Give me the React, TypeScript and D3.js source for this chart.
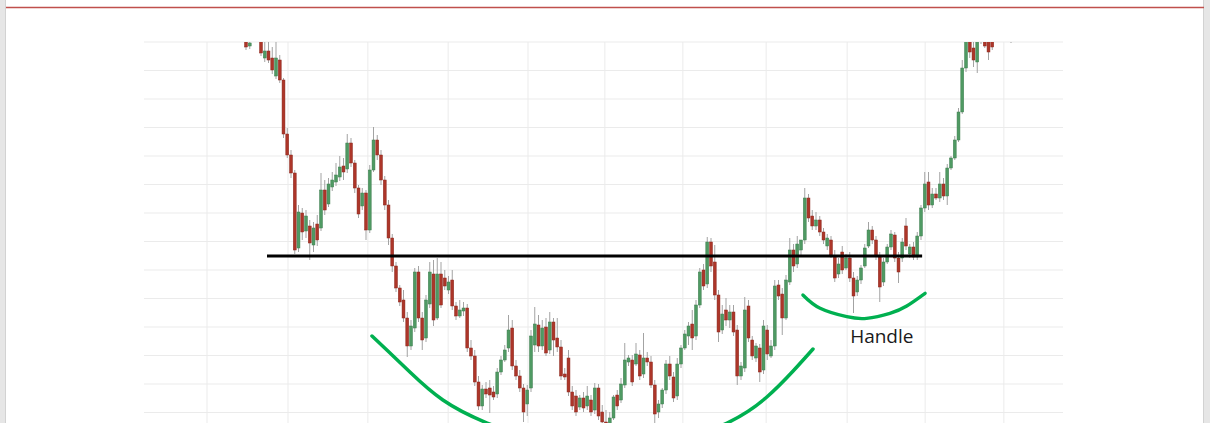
import React from 'react';
import * as d3 from 'd3';

// ---- Candle data (price units, one entry per trading day) ----
const opens = [
  462, 454, 464, 467, 463, 442, 449, 442, 424, 440,
  420, 366, 345, 327, 252, 287, 269, 274, 255, 276,
  272, 310, 296, 313, 318, 323, 334, 331, 357, 337,
  312, 294, 307, 270, 330, 360, 345, 320, 295, 262,
  234, 212, 200, 182, 154, 172, 228, 182, 162, 196,
  226, 182, 226, 222, 210, 220, 194, 184, 189, 192,
  152, 144, 118, 94, 111, 112, 108, 106, 128, 140,
  152, 172, 134, 124, 112, 96, 112, 155, 175, 154,
  173, 150, 178, 162, 153, 126, 142, 108, 104, 93,
  102, 94, 100, 90, 112, 88, 78, 70, 82, 105,
  100, 115, 138, 140, 136, 145, 126, 142, 138, 115,
  88, 96, 110, 136, 123, 104, 136, 152, 164, 176,
  164, 195, 230, 216, 258, 238, 205, 170, 190, 180,
  188, 170, 124, 132, 194, 160, 142, 152, 130, 170,
  144, 154, 215, 206, 182, 218, 250, 236, 250, 260,
  302, 284, 274, 280, 268, 254, 260, 244, 226, 248,
  232, 242, 222, 208, 220, 234, 254, 270, 260, 243,
  218, 238, 253, 265, 242, 242, 274, 246, 253, 243,
  264, 292, 318, 295, 306, 302, 316, 304, 332, 342,
  360, 388, 432, 460, 452, 438, 464, 464, 462, 460,
  468, 470, 474, 472, 470,
];
const highs = [
  465, 460, 470, 472, 466, 458, 459, 453, 460, 445,
  422, 372, 350, 330, 295, 292, 290, 280, 278, 285,
  327, 320, 322, 328, 337, 344, 342, 366, 362, 340,
  315, 312, 310, 335, 373, 365, 350, 324, 300, 266,
  238, 215, 210, 188, 180, 232, 234, 188, 205, 238,
  240, 242, 238, 230, 224, 230, 198, 200, 198, 196,
  160, 150, 124, 115, 118, 120, 114, 132, 144, 155,
  185, 180, 140, 130, 116, 115, 170, 193, 185, 180,
  182, 188, 182, 182, 160, 132, 150, 114, 110, 105,
  108, 114, 105, 117, 116, 95, 90, 88, 105, 110,
  122, 157, 145, 145, 157, 150, 167, 148, 144, 120,
  100, 112, 140, 144, 128, 142, 155, 170, 178, 190,
  200, 232, 236, 263, 262, 255, 210, 195, 202, 195,
  195, 175, 138, 203, 200, 164, 157, 156, 180, 175,
  160, 220, 220, 212, 225, 262, 256, 264, 260, 312,
  306, 290, 288, 284, 272, 266, 264, 250, 242, 254,
  246, 248, 228, 224, 235, 256, 278, 274, 264, 248,
  242, 256, 270, 268, 248, 262, 282, 256, 258, 268,
  295, 328, 328, 312, 312, 328, 322, 336, 344, 364,
  392, 440, 470, 464, 458, 466, 472, 468, 466, 466,
  474, 478, 480, 478, 476,
];
const lows = [
  450, 451, 460, 460, 444, 438, 437, 426, 421, 417,
  362, 342, 322, 246, 248, 260, 262, 240, 248, 254,
  269, 285, 293, 309, 314, 319, 320, 327, 333, 307,
  282, 290, 260, 267, 328, 340, 315, 290, 255, 228,
  208, 194, 178, 143, 150, 168, 178, 150, 158, 192,
  174, 180, 192, 210, 206, 190, 180, 182, 184, 148,
  140, 114, 90, 90, 102, 87, 100, 102, 125, 138,
  148, 130, 120, 108, 78, 84, 108, 148, 148, 150,
  144, 146, 144, 148, 120, 120, 104, 90, 84, 90,
  88, 90, 84, 86, 80, 72, 60, 65, 80, 90,
  97, 112, 134, 114, 134, 120, 122, 134, 112, 77,
  82, 92, 106, 120, 98, 100, 132, 150, 155, 150,
  160, 192, 210, 212, 228, 200, 158, 166, 174, 172,
  164, 115, 120, 128, 158, 140, 138, 118, 126, 140,
  142, 150, 200, 165, 180, 215, 228, 232, 244, 256,
  278, 270, 270, 264, 256, 250, 242, 218, 222, 226,
  230, 218, 187, 204, 216, 232, 252, 256, 240, 198,
  214, 236, 250, 238, 217, 238, 250, 242, 240, 240,
  260, 288, 290, 292, 300, 298, 300, 295, 330, 340,
  358, 386, 428, 442, 433, 427, 456, 452, 440, 450,
  460, 462, 464, 462, 457,
];
const closes = [
  453, 457, 467, 463, 447, 449, 440, 430, 442, 420,
  366, 345, 327, 250, 288, 268, 284, 257, 272, 260,
  310, 290, 316, 320, 325, 333, 328, 357, 337, 312,
  286, 307, 270, 330, 360, 345, 320, 295, 262, 234,
  212, 198, 182, 154, 174, 228, 182, 160, 200, 228,
  180, 226, 195, 214, 218, 194, 184, 190, 192, 152,
  144, 118, 94, 111, 106, 105, 103, 128, 140, 150,
  170, 134, 124, 112, 88, 110, 164, 176, 154, 172,
  147, 178, 160, 153, 124, 123, 108, 94, 88, 102,
  92, 104, 88, 112, 84, 78, 68, 82, 103, 94,
  116, 140, 142, 118, 146, 124, 142, 138, 115, 86,
  96, 110, 136, 124, 102, 136, 152, 166, 174, 162,
  195, 228, 214, 258, 234, 205, 168, 186, 180, 188,
  168, 124, 134, 190, 162, 144, 154, 128, 174, 146,
  154, 214, 204, 182, 220, 250, 234, 256, 260, 302,
  282, 274, 280, 268, 260, 262, 245, 222, 236, 230,
  242, 222, 204, 220, 232, 252, 270, 260, 244, 213,
  238, 253, 266, 242, 228, 258, 254, 253, 243, 264,
  292, 316, 295, 306, 302, 316, 304, 332, 342, 360,
  388, 432, 464, 448, 440, 462, 470, 454, 448, 453,
  470, 474, 472, 470, 466,
];

// month boundaries (in trading-day index units) used for the vertical grid
const monthStarts = [-10.4, 11.2, 32.5, 53.9, 75.2, 95.7, 116.5, 138.7, 160.3, 181.1, 202.1];
// horizontal grid levels (price)
const gridLevels = [458, 429.5, 401, 372.5, 344, 315.5, 287, 258.5, 230, 201.5, 173, 144.5, 116, 87.5];

// neckline / resistance
const necklinePrice = 244;
const necklineRange = [5.6, 180.3];

// pattern annotations (index, price)
const cupCurve: [number, number][] = [
  [33.6, 164], [38.4, 147], [43.7, 128], [52.5, 100], [64.3, 77], [78.4, 60],
  [94.4, 51], [110.4, 54], [128.3, 77], [138.9, 103], [145.9, 129], [151.2, 151],
];
const handleCurve: [number, number][] = [
  [148.5, 205], [153.1, 191.7], [160.2, 183.3], [165.5, 181.7], [171.7, 186.7], [176.2, 194], [181.1, 206.7],
];
const handleLabel = { text: 'Handle', idx: 161.1, price: 157 };

const W = 1210;
const H = 423;

export default function App() {
  const plot = { left: 144, right: 1063, top: 42, bottom: 423 };
  const x = d3.scaleLinear().domain([0, 204]).range([246, 1011]);
  const y = d3.scaleLinear().domain([77, 458]).range([423, 42]);
  const bw = 2.9;
  const n = Math.min(opens.length, highs.length, lows.length, closes.length);
  const idx = d3.range(n);
  const curve = d3
    .line<[number, number]>()
    .x((d) => x(d[0]))
    .y((d) => y(d[1]))
    .curve(d3.curveNatural);

  return (
    <svg
      width={W}
      height={H}
      style={{ position: 'absolute', left: 0, top: 0, background: '#ffffff' }}
    >
      <defs>
        <clipPath id="plotClip">
          <rect x={plot.left} y={plot.top} width={plot.right - plot.left} height={plot.bottom - plot.top + 40} />
        </clipPath>
      </defs>
      {/* page frame */}
      <rect x={0} y={0} width={W} height={H} fill="#ffffff" />
      <rect x={0} y={0} width={5} height={H} fill="#e6e6e6" />
      <line x1={5.5} x2={5.5} y1={0} y2={H} stroke="#d2d2d2" strokeWidth={1} />
      <rect x={1204} y={0} width={6} height={H} fill="#e6e6e6" />
      <line x1={1203.5} x2={1203.5} y1={0} y2={H} stroke="#d2d2d2" strokeWidth={1} />
      <line x1={6} x2={1204} y1={7.5} y2={7.5} stroke="#c0504d" strokeWidth={1.5} />

      {/* grid */}
      <g>
        {gridLevels.map((p) => (
          <line key={'h' + p} x1={plot.left} x2={plot.right} y1={y(p)} y2={y(p)} stroke="#ebebeb" strokeWidth={1} />
        ))}
        {monthStarts.map((m) => (
          <line key={'v' + m} x1={x(m)} x2={x(m)} y1={plot.top} y2={H} stroke="#ebebeb" strokeWidth={1} />
        ))}
      </g>

      {/* candles */}
      <g clipPath="url(#plotClip)">
        {idx.map((i) => (
          <line key={'w' + i} x1={x(i)} x2={x(i)} y1={y(highs[i])} y2={y(lows[i])} stroke="#a3a3a3" strokeWidth={1} />
        ))}
        {idx.map((i) => {
          const up = closes[i] >= opens[i];
          const top = y(Math.max(opens[i], closes[i]));
          const bot = y(Math.min(opens[i], closes[i]));
          return (
            <rect
              key={'b' + i}
              x={x(i) - bw / 2}
              y={top}
              width={bw}
              height={Math.max(1, bot - top)}
              fill={up ? '#4f9a63' : '#ad3629'}
              stroke={up ? '#3d7d4e' : '#8a271d'}
              strokeWidth={0.5}
            />
          );
        })}
      </g>

      {/* neckline */}
      <line
        x1={x(necklineRange[0])}
        x2={x(necklineRange[1])}
        y1={y(necklinePrice)}
        y2={y(necklinePrice)}
        stroke="#000000"
        strokeWidth={2.8}
      />

      {/* cup and handle arcs */}
      <path d={curve(cupCurve) || ''} fill="none" stroke="#00b050" strokeWidth={3.5} strokeLinecap="round" />
      <path d={curve(handleCurve) || ''} fill="none" stroke="#00b050" strokeWidth={3.3} strokeLinecap="round" />

      <text
        x={x(handleLabel.idx)}
        y={y(handleLabel.price)}
        fontFamily="'Open Sans', 'Noto Sans', sans-serif"
        fontSize={19}
        fill="#1a1a1a"
      >
        {handleLabel.text}
      </text>
    </svg>
  );
}
